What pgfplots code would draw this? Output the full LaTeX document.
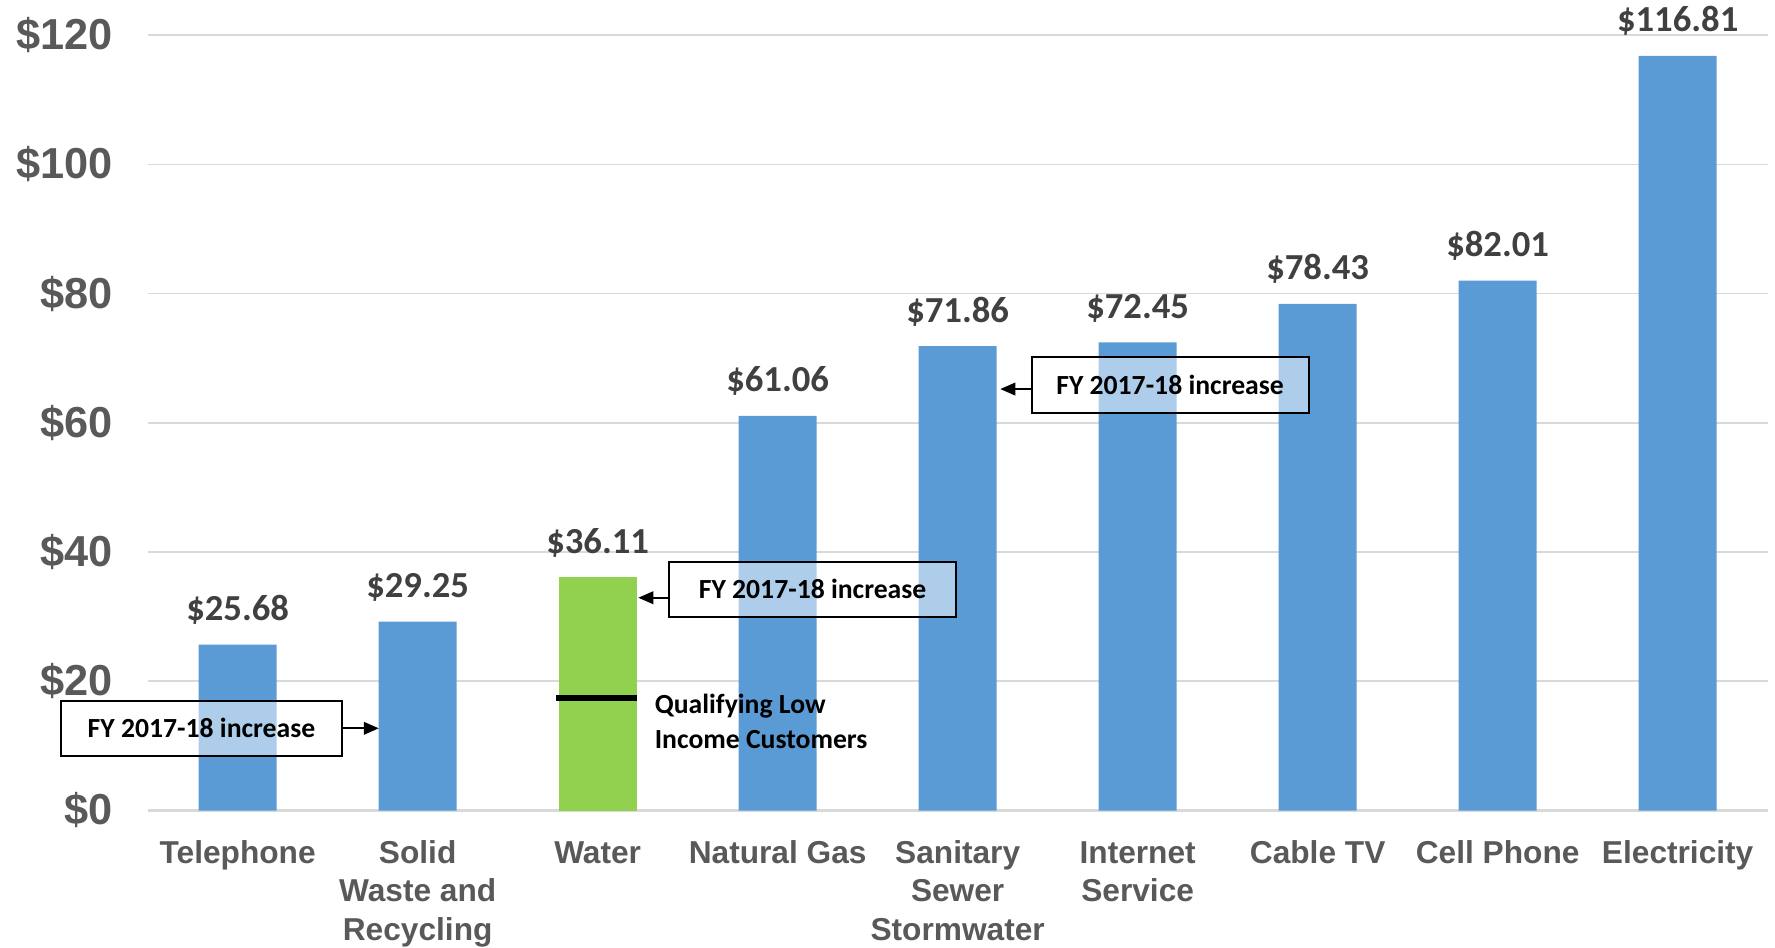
\documentclass[border=0pt]{standalone}
\usepackage{fontspec}
\setmainfont{Liberation Sans}
\newfontfamily\carlito{Carlito}
\usepackage{pgfplots}
\pgfplotsset{compat=1.18}
\usetikzlibrary{arrows.meta}

\definecolor{barblue}{HTML}{5B9BD5}
\definecolor{bargreen}{HTML}{92D050}
\definecolor{gridgray}{HTML}{D9D9D9}
\definecolor{tickgray}{HTML}{595959}
\definecolor{labelgray}{HTML}{404040}

\tikzset{
  incbox/.style={draw=black, line width=0.6pt, fill=white, fill opacity=0.5},
  inctext/.style={font=\carlito\fontsize{8.3}{10}\selectfont\bfseries, text=black},
  incarrow/.style={-{Triangle[length=4.5pt,width=3.8pt]}, line width=0.5pt},
}

\begin{document}
\begin{tikzpicture}
\begin{axis}[
  scale only axis, width=486pt, height=232.6pt,
  xmin=-0.5, xmax=8.5, ymin=0, ymax=120,
  clip=false,
  ybar, bar width=0.434, bar shift=0pt,
  axis x line*=bottom, axis y line*=left,
  x axis line style={draw=gridgray, line width=1pt, -},
  y axis line style={draw=none},
  tick style={draw=none},
  ymajorgrids, major grid style={draw=gridgray, line width=0.5pt},
  ytick={0,20,...,120},
  yticklabels={\$0,\$20,\$40,\$60,\$80,\$100,\$120},
  yticklabel style={font=\fontsize{13}{15}\selectfont\bfseries, text=tickgray, xshift=-7pt},
  xtick={0,...,8},
  xticklabels={\strut Telephone, \strut Solid\\Waste and\\Recycling, \strut Water, \strut Natural Gas, \strut Sanitary\\Sewer\\Stormwater, \strut Internet\\Service, \strut Cable TV, \strut Cell Phone, \strut Electricity},
  xticklabel style={align=center, font=\fontsize{9.5}{11.5}\selectfont\bfseries, text=tickgray, yshift=0pt},
  /pgf/number format/assume math mode=true,
  every node near coord/.append style={font=\carlito\fontsize{11}{13}\selectfont\bfseries, text=labelgray, yshift=2.5pt},
]
% monthly bills
\addplot[fill=barblue, draw=none,
  nodes near coords={\$\pgfmathprintnumber[fixed,fixed zerofill,precision=2]{\pgfplotspointmeta}}]
  coordinates {(0,25.68) (1,29.25) (3,61.06) (4,71.86) (5,72.45) (6,78.43) (7,82.01) (8,116.81)};
\addplot[fill=bargreen, draw=none,
  nodes near coords={\$\pgfmathprintnumber[fixed,fixed zerofill,precision=2]{\pgfplotspointmeta}}]
  coordinates {(2,36.11)};
% low income rate
\addplot[sharp plot, black, line width=2pt, no marks] coordinates {(1.77,17.41) (2.217,17.41)};

\node[anchor=north west, inner sep=0pt, align=left,
  font=\carlito\fontsize{8.3}{10.5}\selectfont\bfseries]
  at (axis cs:2.314,18.1) {Qualifying Low\\Income Customers};

% FY 2017-18 increase call-outs
\draw[incbox] (axis cs:-0.979,8.43) rectangle (axis cs:0.577,16.99);
\node[inctext] at (axis cs:-0.201,12.71) {FY 2017-18 increase};
\draw[incarrow] (axis cs:0.577,12.72) -- (axis cs:0.784,12.72);

\draw[incbox] (axis cs:2.395,29.99) rectangle (axis cs:3.993,38.5);
\node[inctext] at (axis cs:3.194,34.25) {FY 2017-18 increase};
\draw[incarrow] (axis cs:2.395,32.93) -- (axis cs:2.226,32.93);

\draw[incbox] (axis cs:4.411,61.52) rectangle (axis cs:5.952,70.23);
\node[inctext] at (axis cs:5.18,65.87) {FY 2017-18 increase};
\draw[incarrow] (axis cs:4.411,65.23) -- (axis cs:4.237,65.23);
\end{axis}
\pgfresetboundingbox
\path[use as bounding box] (-44.3pt,-40.95pt) rectangle (488.2pt,243.15pt);
\end{tikzpicture}
\end{document}
